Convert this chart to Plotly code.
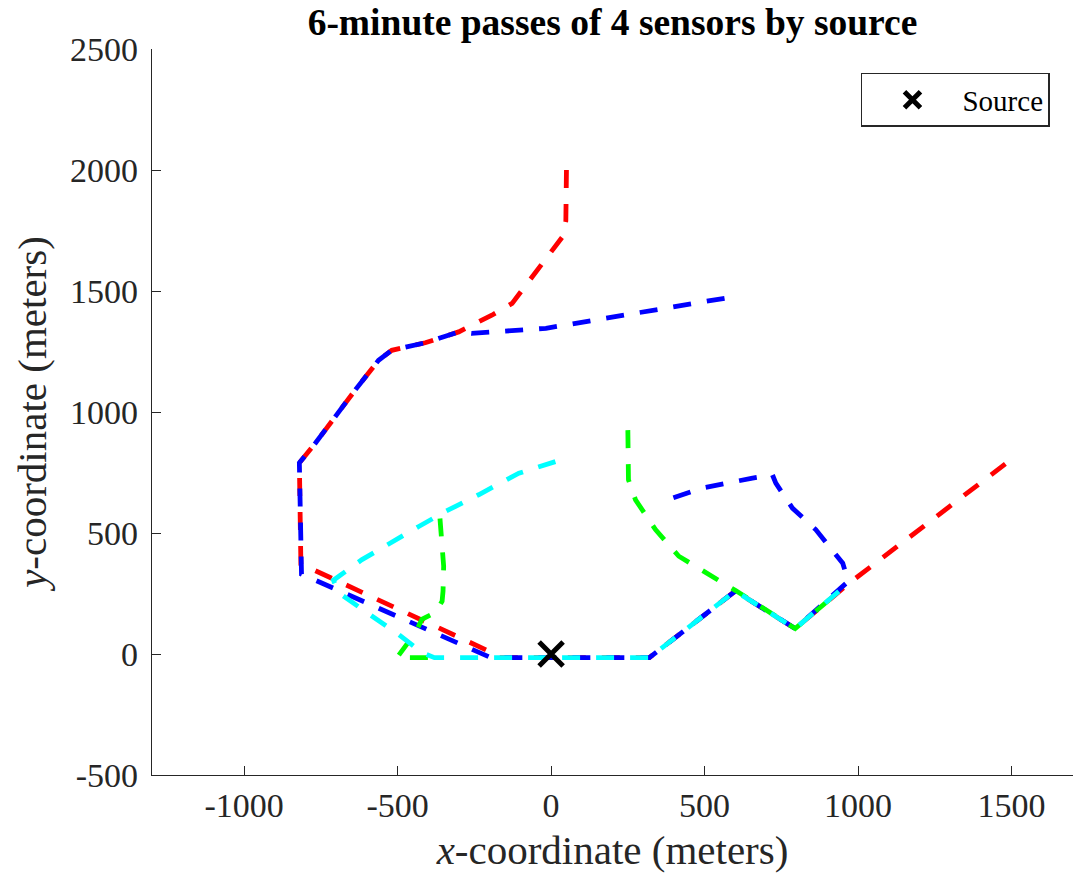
import plotly.graph_objects as go

# Sensor tracks (meters); None breaks a track into separate pieces
red_x = [50, 48, 36, 3, -62, -127, -193, -247, -301, -410, -519, -562, -638, -768, -820,
         -815, -203, -170, 320, 600, 795, 970, 1505]
red_y = [2000, 1790, 1722, 1667, 1557, 1449, 1400, 1365, 1331, 1286, 1255, 1214, 1091, 871, 790,
         372, 12, -15, -15, 260, 105, 292, 810]

blue_x = [565, 296, -17, -259, -301, -410, -519, -562, -638, -768, -820,
          -813, -196, 320, 600, 795, 968, 950, 862, 786, 732, 721, 656, 493, 395]
blue_y = [1470, 1412, 1346, 1325, 1331, 1286, 1255, 1214, 1091, 871, 790,
          330, -15, -15, 260, 105, 300, 375, 514, 603, 706, 740, 727, 686, 644]

green_x = [250, 252, 275, 340, 416, 514, 601, 795, 935, None,
           -362, -350, -352, -355, -377, -421, -442, -502, -400]
green_y = [925, 720, 637, 514, 404, 328, 262, 105, 255, None,
           560, 363, 260, 218, 171, 143, 88, -15, -15]

cyan_x = [14, -105, -236, -344, -431, -529, -616, -709, -692, -584, -497, -420, -380,
          320, 600, 795, 940]
cyan_y = [795, 747, 658, 589, 527, 452, 390, 305, 253, 157, 81, 5, -15,
          -15, 260, 105, 262]

source_x = [0]
source_y = [0]

x_ticks = [-1000, -500, 0, 500, 1000, 1500]
x_tick_text = ["-1000", "-500", "0", "500", "1000", "1500"]
y_ticks = [-500, 0, 500, 1000, 1500, 2000, 2500]
y_tick_text = ["-500", "0", "500", "1000", "1500", "2000", "2500"]

FONT = "Liberation Serif"
AX = "#262626"
DASH = "18px,16px"
LW = 4.8

fig = go.Figure()

tracks = [
    (red_x, red_y, "#ff0000"),
    (blue_x, blue_y, "#0000ff"),
    (green_x, green_y, "#00ff00"),
    (cyan_x, cyan_y, "#00ffff"),
]
for xs, ys, col in tracks:
    fig.add_trace(go.Scatter(
        x=xs, y=ys, mode="lines", showlegend=False, connectgaps=False,
        line=dict(color=col, width=LW, dash=DASH),
        hoverinfo="skip",
    ))

fig.add_trace(go.Scatter(
    x=source_x, y=source_y, mode="markers", name="Source",
    marker=dict(symbol="x-thin", size=24, color="black",
                line=dict(color="black", width=5)),
))

fig.update_layout(
    width=1081, height=873,
    margin=dict(l=152, r=8, t=49, b=98),
    paper_bgcolor="white", plot_bgcolor="white",
    font=dict(family=FONT, color=AX, size=34),
    title=dict(
        text="<b>6-minute passes of 4 sensors by source</b>",
        font=dict(family=FONT, size=37.5, color="black"),
        x=0.5, xanchor="center", xref="paper",
        y=1 - 22 / 873, yanchor="middle", yref="container",
    ),
    xaxis=dict(
        range=[-1300, 1700], tickmode="array", tickvals=x_ticks, ticktext=x_tick_text,
        showgrid=False, zeroline=False, showline=True, linecolor=AX, linewidth=1.3,
        ticks="inside", ticklen=9, tickcolor=AX, tickwidth=1.3, mirror=False,
        tickfont=dict(family=FONT, size=34, color=AX),
        title=dict(text="<i>x</i>-coordinate (meters)",
                   font=dict(family=FONT, size=41, color=AX), standoff=12),
    ),
    yaxis=dict(
        range=[-500, 2500], tickmode="array", tickvals=y_ticks, ticktext=y_tick_text,
        showgrid=False, zeroline=False, showline=True, linecolor=AX, linewidth=1.3,
        ticks="inside", ticklen=9, tickcolor=AX, tickwidth=1.3, mirror=False,
        ticklabelstandoff=6,
        tickfont=dict(family=FONT, size=34, color=AX),
        title=dict(text="<i>y</i>-coordinate (meters)",
                   font=dict(family=FONT, size=41, color=AX), standoff=10),
    ),
    legend=dict(
        x=0.975, xanchor="right", y=0.967, yanchor="top",
        bgcolor="white", bordercolor=AX, borderwidth=1.5,
        font=dict(family=FONT, size=29, color="black"),
        itemwidth=90,
    ),
    showlegend=True,
)

fig.write_html("out.html")
